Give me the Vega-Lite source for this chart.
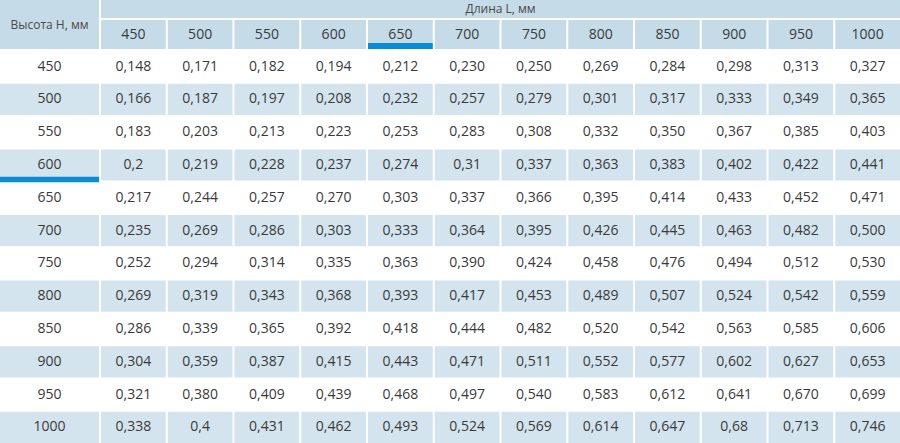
{
  "$schema": "https://vega.github.io/schema/vega-lite/v6.json",
  "description": "Таблица: высота H x длина L",
  "padding": 0,
  "spacing": 2,
  "config": {
    "view": {"stroke": null},
    "concat": {"spacing": 2},
    "text": {"font": "Open Sans"}
  },
  "datasets": {
    "cells": [
      {"H":450,"L":450,"v":"0,148"},{"H":450,"L":500,"v":"0,171"},{"H":450,"L":550,"v":"0,182"},{"H":450,"L":600,"v":"0,194"},{"H":450,"L":650,"v":"0,212"},{"H":450,"L":700,"v":"0,230"},{"H":450,"L":750,"v":"0,250"},{"H":450,"L":800,"v":"0,269"},{"H":450,"L":850,"v":"0,284"},{"H":450,"L":900,"v":"0,298"},{"H":450,"L":950,"v":"0,313"},{"H":450,"L":1000,"v":"0,327"},
      {"H":500,"L":450,"v":"0,166"},{"H":500,"L":500,"v":"0,187"},{"H":500,"L":550,"v":"0,197"},{"H":500,"L":600,"v":"0,208"},{"H":500,"L":650,"v":"0,232"},{"H":500,"L":700,"v":"0,257"},{"H":500,"L":750,"v":"0,279"},{"H":500,"L":800,"v":"0,301"},{"H":500,"L":850,"v":"0,317"},{"H":500,"L":900,"v":"0,333"},{"H":500,"L":950,"v":"0,349"},{"H":500,"L":1000,"v":"0,365"},
      {"H":550,"L":450,"v":"0,183"},{"H":550,"L":500,"v":"0,203"},{"H":550,"L":550,"v":"0,213"},{"H":550,"L":600,"v":"0,223"},{"H":550,"L":650,"v":"0,253"},{"H":550,"L":700,"v":"0,283"},{"H":550,"L":750,"v":"0,308"},{"H":550,"L":800,"v":"0,332"},{"H":550,"L":850,"v":"0,350"},{"H":550,"L":900,"v":"0,367"},{"H":550,"L":950,"v":"0,385"},{"H":550,"L":1000,"v":"0,403"},
      {"H":600,"L":450,"v":"0,2"},{"H":600,"L":500,"v":"0,219"},{"H":600,"L":550,"v":"0,228"},{"H":600,"L":600,"v":"0,237"},{"H":600,"L":650,"v":"0,274"},{"H":600,"L":700,"v":"0,31"},{"H":600,"L":750,"v":"0,337"},{"H":600,"L":800,"v":"0,363"},{"H":600,"L":850,"v":"0,383"},{"H":600,"L":900,"v":"0,402"},{"H":600,"L":950,"v":"0,422"},{"H":600,"L":1000,"v":"0,441"},
      {"H":650,"L":450,"v":"0,217"},{"H":650,"L":500,"v":"0,244"},{"H":650,"L":550,"v":"0,257"},{"H":650,"L":600,"v":"0,270"},{"H":650,"L":650,"v":"0,303"},{"H":650,"L":700,"v":"0,337"},{"H":650,"L":750,"v":"0,366"},{"H":650,"L":800,"v":"0,395"},{"H":650,"L":850,"v":"0,414"},{"H":650,"L":900,"v":"0,433"},{"H":650,"L":950,"v":"0,452"},{"H":650,"L":1000,"v":"0,471"},
      {"H":700,"L":450,"v":"0,235"},{"H":700,"L":500,"v":"0,269"},{"H":700,"L":550,"v":"0,286"},{"H":700,"L":600,"v":"0,303"},{"H":700,"L":650,"v":"0,333"},{"H":700,"L":700,"v":"0,364"},{"H":700,"L":750,"v":"0,395"},{"H":700,"L":800,"v":"0,426"},{"H":700,"L":850,"v":"0,445"},{"H":700,"L":900,"v":"0,463"},{"H":700,"L":950,"v":"0,482"},{"H":700,"L":1000,"v":"0,500"},
      {"H":750,"L":450,"v":"0,252"},{"H":750,"L":500,"v":"0,294"},{"H":750,"L":550,"v":"0,314"},{"H":750,"L":600,"v":"0,335"},{"H":750,"L":650,"v":"0,363"},{"H":750,"L":700,"v":"0,390"},{"H":750,"L":750,"v":"0,424"},{"H":750,"L":800,"v":"0,458"},{"H":750,"L":850,"v":"0,476"},{"H":750,"L":900,"v":"0,494"},{"H":750,"L":950,"v":"0,512"},{"H":750,"L":1000,"v":"0,530"},
      {"H":800,"L":450,"v":"0,269"},{"H":800,"L":500,"v":"0,319"},{"H":800,"L":550,"v":"0,343"},{"H":800,"L":600,"v":"0,368"},{"H":800,"L":650,"v":"0,393"},{"H":800,"L":700,"v":"0,417"},{"H":800,"L":750,"v":"0,453"},{"H":800,"L":800,"v":"0,489"},{"H":800,"L":850,"v":"0,507"},{"H":800,"L":900,"v":"0,524"},{"H":800,"L":950,"v":"0,542"},{"H":800,"L":1000,"v":"0,559"},
      {"H":850,"L":450,"v":"0,286"},{"H":850,"L":500,"v":"0,339"},{"H":850,"L":550,"v":"0,365"},{"H":850,"L":600,"v":"0,392"},{"H":850,"L":650,"v":"0,418"},{"H":850,"L":700,"v":"0,444"},{"H":850,"L":750,"v":"0,482"},{"H":850,"L":800,"v":"0,520"},{"H":850,"L":850,"v":"0,542"},{"H":850,"L":900,"v":"0,563"},{"H":850,"L":950,"v":"0,585"},{"H":850,"L":1000,"v":"0,606"},
      {"H":900,"L":450,"v":"0,304"},{"H":900,"L":500,"v":"0,359"},{"H":900,"L":550,"v":"0,387"},{"H":900,"L":600,"v":"0,415"},{"H":900,"L":650,"v":"0,443"},{"H":900,"L":700,"v":"0,471"},{"H":900,"L":750,"v":"0,511"},{"H":900,"L":800,"v":"0,552"},{"H":900,"L":850,"v":"0,577"},{"H":900,"L":900,"v":"0,602"},{"H":900,"L":950,"v":"0,627"},{"H":900,"L":1000,"v":"0,653"},
      {"H":950,"L":450,"v":"0,321"},{"H":950,"L":500,"v":"0,380"},{"H":950,"L":550,"v":"0,409"},{"H":950,"L":600,"v":"0,439"},{"H":950,"L":650,"v":"0,468"},{"H":950,"L":700,"v":"0,497"},{"H":950,"L":750,"v":"0,540"},{"H":950,"L":800,"v":"0,583"},{"H":950,"L":850,"v":"0,612"},{"H":950,"L":900,"v":"0,641"},{"H":950,"L":950,"v":"0,670"},{"H":950,"L":1000,"v":"0,699"},
      {"H":1000,"L":450,"v":"0,338"},{"H":1000,"L":500,"v":"0,4"},{"H":1000,"L":550,"v":"0,431"},{"H":1000,"L":600,"v":"0,462"},{"H":1000,"L":650,"v":"0,493"},{"H":1000,"L":700,"v":"0,524"},{"H":1000,"L":750,"v":"0,569"},{"H":1000,"L":800,"v":"0,614"},{"H":1000,"L":850,"v":"0,647"},{"H":1000,"L":900,"v":"0,68"},{"H":1000,"L":950,"v":"0,713"},{"H":1000,"L":1000,"v":"0,746"}
    ]
  },
  "hconcat": [
    {
      "spacing": 2,
      "vconcat": [
        {
          "width": 99,
          "height": 49,
          "view": {"fill": "#c5dbe8", "stroke": null},
          "data": {"values": [{"t": "Высота H, мм"}]},
          "mark": {"type": "text", "fontSize": 12, "color": "#4a4a4a"},
          "encoding": {"text": {"field": "t"}}
        },
        {
          "width": 99,
          "height": 392,
          "data": {"name": "cells"},
          "transform": [{"filter": "datum.L === 450"}],
          "encoding": {
            "y": {
              "field": "H", "type": "ordinal", "axis": null,
              "scale": {"domain": [450,500,550,600,650,700,750,800,850,900,950,1000], "paddingInner": 0.05, "paddingOuter": 0}
            }
          },
          "layer": [
            {
              "transform": [{"filter": "datum.H % 100 === 0"}],
              "mark": {"type": "rect", "fill": "#d3e4ee"}
            },
            {
              "mark": {"type": "text", "fontSize": 14, "color": "#3a3a3a"},
              "encoding": {"text": {"field": "H"}}
            },
            {
              "transform": [{"filter": "datum.H === 600"}],
              "mark": {"type": "rect", "fill": "#0a8bd5", "height": 5.5, "yOffset": 14.5}
            }
          ]
        }
      ]
    },
    {
      "spacing": 2,
      "vconcat": [
        {
          "width": 799,
          "height": 18,
          "view": {"fill": "#c5dbe8", "stroke": null},
          "data": {"values": [{"t": "Длина L, мм"}]},
          "mark": {"type": "text", "fontSize": 12, "color": "#4a4a4a"},
          "encoding": {"text": {"field": "t"}}
        },
        {
          "width": 799,
          "height": 29,
          "data": {"name": "cells"},
          "transform": [{"filter": "datum.H === 450"}],
          "encoding": {
            "x": {
              "field": "L", "type": "ordinal", "axis": null,
              "scale": {"domain": [450,500,550,600,650,700,750,800,850,900,950,1000], "paddingInner": 0.03, "paddingOuter": 0}
            },
            "y": {
              "field": "H", "type": "ordinal", "axis": null,
              "scale": {"domain": [450], "paddingInner": 0, "paddingOuter": 0}
            }
          },
          "layer": [
            {"mark": {"type": "rect", "fill": "#c5dbe8"}},
            {
              "mark": {"type": "text", "fontSize": 14, "color": "#3a3a3a"},
              "encoding": {"text": {"field": "L"}}
            },
            {
              "transform": [{"filter": "datum.L === 650"}],
              "mark": {"type": "rect", "fill": "#0a8bd5", "height": 6, "yOffset": 11.5}
            }
          ]
        },
        {
          "width": 799,
          "height": 392,
          "data": {"name": "cells"},
          "encoding": {
            "x": {
              "field": "L", "type": "ordinal", "axis": null,
              "scale": {"domain": [450,500,550,600,650,700,750,800,850,900,950,1000], "paddingInner": 0.03, "paddingOuter": 0}
            },
            "y": {
              "field": "H", "type": "ordinal", "axis": null,
              "scale": {"domain": [450,500,550,600,650,700,750,800,850,900,950,1000], "paddingInner": 0.05, "paddingOuter": 0}
            }
          },
          "layer": [
            {
              "transform": [{"filter": "datum.H % 100 === 0"}],
              "mark": {"type": "rect", "fill": "#d3e4ee"}
            },
            {
              "mark": {"type": "text", "fontSize": 14, "color": "#3a3a3a"},
              "encoding": {"text": {"field": "v"}}
            }
          ]
        }
      ]
    }
  ]
}
